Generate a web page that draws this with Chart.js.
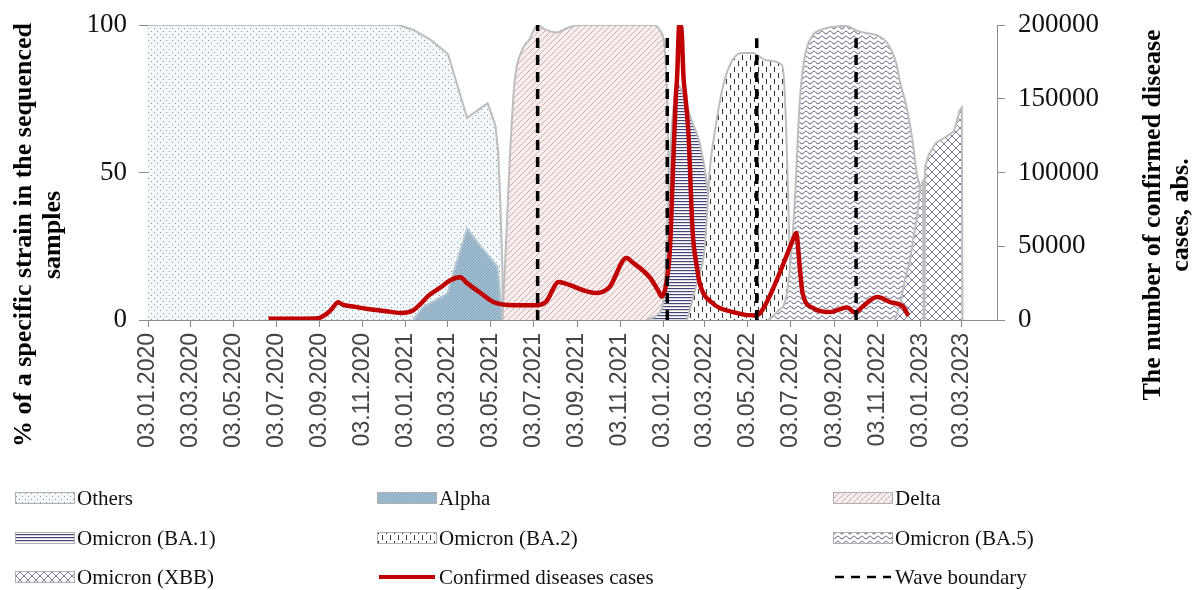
<!DOCTYPE html>
<html>
<head>
<meta charset="utf-8">
<script src="https://cdn.jsdelivr.net/npm/chart.js@4.4.1/dist/chart.umd.min.js"></script>
<style>
  html, body { margin: 0; padding: 0; background: #fff; }
  #wrap { width: 1195px; height: 590px; }
</style>
</head>
<body>
<div id="wrap"><canvas id="chart" width="1195" height="590"></canvas></div>
<script>
// x axis tick labels (every two months)
const xTickLabels = [
  '03.01.2020', '03.03.2020', '03.05.2020', '03.07.2020', '03.09.2020', '03.11.2020',
  '03.01.2021', '03.03.2021', '03.05.2021', '03.07.2021', '03.09.2021', '03.11.2021',
  '03.01.2022', '03.03.2022', '03.05.2022', '03.07.2022', '03.09.2022', '03.11.2022',
  '03.01.2023', '03.03.2023'
];
const xEnd = '2023-04-22';

// share of each strain in sequenced samples, % : [date, value]
const others = [
  ['2020-01-03', 100], ['2020-12-24', 100], ['2021-01-14', 98.3], ['2021-02-07', 95],
  ['2021-02-25', 91.5], ['2021-03-04', 90], ['2021-03-31', 68.5], ['2021-04-29', 73.5],
  ['2021-05-10', 66], ['2021-05-14', 57], ['2021-05-17', 40], ['2021-05-20', 18], ['2021-05-21', 0]
];
const alpha = [
  ['2021-01-13', 0], ['2021-01-28', 4.4], ['2021-03-03', 9], ['2021-03-14', 18],
  ['2021-03-31', 31], ['2021-04-19', 25], ['2021-05-13', 18], ['2021-05-17', 8], ['2021-05-20', 0]
];
const delta = [
  ['2021-05-20', 0], ['2021-05-24', 20], ['2021-05-30', 52], ['2021-06-06', 80],
  ['2021-06-17', 91.5], ['2021-06-27', 95], ['2021-07-09', 100], ['2021-07-19', 98.5],
  ['2021-08-06', 97.5], ['2021-08-20', 99], ['2021-09-06', 100], ['2021-12-20', 100],
  ['2021-12-30', 98], ['2022-01-05', 93], ['2022-01-09', 75], ['2022-01-11', 52],
  ['2022-01-14', 29], ['2022-01-17', 8], ['2022-01-21', 0]
];
const ba1 = [
  ['2021-12-10', 0], ['2021-12-27', 2], ['2022-01-03', 6], ['2022-01-08', 25],
  ['2022-01-12', 50], ['2022-01-17', 70], ['2022-01-24', 80], ['2022-02-01', 76],
  ['2022-02-12', 68], ['2022-02-24', 60], ['2022-03-07', 45], ['2022-03-14', 30],
  ['2022-03-22', 15], ['2022-03-31', 0]
];
const ba2 = [
  ['2022-02-06', 0], ['2022-02-20', 12.5], ['2022-03-03', 24], ['2022-03-07', 38],
  ['2022-03-10', 50], ['2022-03-17', 63], ['2022-03-28', 78], ['2022-04-07', 86],
  ['2022-04-24', 90.5], ['2022-05-10', 90.5], ['2022-05-30', 88], ['2022-06-21', 86.4],
  ['2022-06-24', 80], ['2022-06-27', 63], ['2022-07-01', 29], ['2022-07-06', 0]
];
const ba5 = [
  ['2022-06-01', 0], ['2022-06-15', 3], ['2022-06-27', 8], ['2022-07-03', 20],
  ['2022-07-06', 29], ['2022-07-09', 40], ['2022-07-16', 74], ['2022-07-23', 89],
  ['2022-08-02', 96], ['2022-08-17', 98.5], ['2022-09-06', 99.5], ['2022-09-20', 99.7],
  ['2022-10-06', 98], ['2022-10-25', 97], ['2022-11-03', 96.5], ['2022-11-17', 94],
  ['2022-11-30', 87], ['2022-12-06', 80], ['2022-12-13', 74], ['2022-12-23', 61],
  ['2022-12-30', 48.5], ['2023-01-03', 42], ['2023-01-06', 0]
];
const xbb = [
  ['2022-11-28', 0], ['2022-12-05', 5], ['2022-12-12', 13], ['2022-12-20', 21],
  ['2022-12-30', 36], ['2023-01-03', 45], ['2023-01-07', 47], ['2023-01-08', 0],
  ['2023-01-09', 0], ['2023-01-10', 52], ['2023-01-15', 56], ['2023-01-25', 60],
  ['2023-02-08', 62], ['2023-02-20', 64], ['2023-02-28', 71], ['2023-03-03', 72],
  ['2023-03-04', 0]
];

// confirmed disease cases, abs. : [date, value]
const cases = [
  ['2020-06-22', 800], ['2020-08-06', 900], ['2020-08-31', 1200], ['2020-09-12', 4000],
  ['2020-09-19', 7000], ['2020-09-29', 12000], ['2020-10-05', 10500], ['2020-10-22', 9000],
  ['2020-11-10', 7500], ['2020-12-06', 6000], ['2020-12-27', 4800], ['2021-01-13', 6500],
  ['2021-01-24', 11000], ['2021-02-03', 16000], ['2021-02-21', 22000], ['2021-03-07', 27000],
  ['2021-03-21', 29000], ['2021-03-31', 25000], ['2021-04-19', 18300], ['2021-05-07', 12200],
  ['2021-06-05', 10000], ['2021-07-07', 10000], ['2021-07-21', 12500], ['2021-08-08', 25800],
  ['2021-08-22', 24000], ['2021-09-13', 20000], ['2021-09-30', 18300], ['2021-10-19', 22400],
  ['2021-11-12', 42000], ['2021-11-21', 39000], ['2021-12-15', 29000], ['2021-12-27', 20000],
  ['2022-01-01', 16000], ['2022-01-09', 29000], ['2022-01-13', 50000], ['2022-01-17', 100000],
  ['2022-01-21', 150000], ['2022-01-23', 165000], ['2022-01-26', 200000], ['2022-01-29', 198000],
  ['2022-02-01', 165000], ['2022-02-04', 150000], ['2022-02-08', 127000], ['2022-02-14', 60000],
  ['2022-02-20', 36000], ['2022-02-24', 25000], ['2022-03-14', 11500], ['2022-04-12', 5400],
  ['2022-05-16', 3000], ['2022-05-24', 6800], ['2022-06-07', 20000], ['2022-06-21', 36000],
  ['2022-07-06', 54000], ['2022-07-11', 59000], ['2022-07-16', 36000], ['2022-07-20', 18300],
  ['2022-08-04', 8100], ['2022-08-28', 5400], ['2022-09-21', 8500], ['2022-10-03', 5000],
  ['2022-10-13', 9000], ['2022-11-03', 15600], ['2022-11-21', 12200], ['2022-12-10', 8800],
  ['2022-12-17', 3000]
];

// wave boundaries: date and top of the line (% axis)
const waveDates = ['2021-07-09', '2022-01-09', '2022-05-16', '2022-10-04'];
const waveTops = [100, 96, 95.5, 95.5];

const day0 = Date.UTC(2020, 0, 3);
function day(iso) {
  const [y, m, d] = iso.split('-').map(Number);
  return (Date.UTC(y, m - 1, d) - day0) / 86400000;
}
function labelDay(lbl) {
  const [d, m, y] = lbl.split('.');
  return day(`${y}-${m}-${d}`);
}
const xTicks = xTickLabels.map(labelDay);
const pts = arr => arr.map(([d, v]) => ({ x: day(d), y: v }));

// hatch patterns
function pattern(w, h, draw) {
  const c = document.createElement('canvas');
  c.width = w; c.height = h;
  const g = c.getContext('2d');
  draw(g, w, h);
  return g.createPattern(c, 'repeat');
}
const patOthers = pattern(6, 6, (g) => {
  g.fillStyle = '#f1f7fa'; g.fillRect(0, 0, 6, 6);
  g.fillStyle = '#8d9ba3'; g.fillRect(1, 1, 1, 1); g.fillRect(4, 4, 1, 1);
});
const patAlpha = pattern(3, 3, (g) => {
  g.fillStyle = '#a3bfd2'; g.fillRect(0, 0, 3, 3);
  g.fillStyle = '#84a3ba'; g.fillRect(0, 0, 1, 1); g.fillRect(2, 1, 1, 1); g.fillRect(1, 2, 1, 1);
});
const patDelta = pattern(6, 6, (g) => {
  g.fillStyle = '#f8eeed'; g.fillRect(0, 0, 6, 6);
  g.strokeStyle = '#ccaeae'; g.lineWidth = 1;
  for (const o of [-6, 0, 6]) { g.beginPath(); g.moveTo(o, 6); g.lineTo(o + 6, 0); g.stroke(); }
});
const patBa1 = pattern(4, 3, (g) => {
  g.fillStyle = '#ffffff'; g.fillRect(0, 0, 4, 3);
  g.fillStyle = '#45457a'; g.fillRect(0, 0, 4, 1.2);
});
const patBa2 = pattern(8, 12, (g) => {
  g.fillStyle = '#ffffff'; g.fillRect(0, 0, 8, 12);
  g.fillStyle = '#333333'; g.fillRect(2, 1, 1, 5); g.fillRect(6, 7, 1, 5);
});
const patBa5 = pattern(8, 5, (g) => {
  g.fillStyle = '#ffffff'; g.fillRect(0, 0, 8, 5);
  g.strokeStyle = '#3f3f68'; g.lineWidth = 1;
  g.beginPath();
  for (let x = 0; x <= 8; x += 0.5) {
    const y = 2.5 + 1.3 * Math.sin(x / 8 * Math.PI * 2);
    x === 0 ? g.moveTo(x, y) : g.lineTo(x, y);
  }
  g.stroke();
});
const patXbb = pattern(8, 8, (g) => {
  g.fillStyle = '#ffffff'; g.fillRect(0, 0, 8, 8);
  g.strokeStyle = '#7a7a98'; g.lineWidth = 1;
  g.beginPath(); g.moveTo(0, 0); g.lineTo(8, 8); g.moveTo(0, 8); g.lineTo(8, 0); g.stroke();
});

const areaBorder = '#bdbdbd';
function area(label, data, fill, order, tension, border) {
  return {
    label, data: pts(data), yAxisID: 'y', order,
    backgroundColor: fill, borderColor: border || areaBorder, borderWidth: 2,
    fill: 'origin', pointRadius: 0, tension, cubicInterpolationMode: tension ? 'monotone' : 'default'
  };
}

const datasets = [
  area('Others', others, patOthers, 9, 0),
  area('Alpha', alpha, patAlpha, 8, 0, '#b3c6d3'),
  area('Delta', delta, patDelta, 7, 0.3),
  area('Omicron (BA.1)', ba1, patBa1, 6, 0.3),
  area('Omicron (BA.2)', ba2, patBa2, 5, 0.3),
  area('Omicron (BA.5)', ba5, patBa5, 4, 0.3),
  area('Omicron (XBB)', xbb, patXbb, 3, 0),
  {
    label: 'Confirmed diseases cases', data: pts(cases), yAxisID: 'y1', order: 2,
    borderColor: '#c00000', backgroundColor: '#c00000', borderWidth: 4.5,
    fill: false, pointRadius: 0, tension: 0.3, cubicInterpolationMode: 'monotone'
  }
];
waveDates.forEach((d, i) => {
  datasets.push({
    label: 'Wave boundary', data: [{ x: day(d), y: 0 }, { x: day(d), y: waveTops[i] }],
    yAxisID: 'y', order: 1, borderColor: '#000', borderWidth: 3.5, borderDash: [10, 7],
    fill: false, pointRadius: 0
  });
});

const legendOrder = [
  'Others', 'Alpha', 'Delta',
  'Omicron (BA.1)', 'Omicron (BA.2)', 'Omicron (BA.5)',
  'Omicron (XBB)', 'Confirmed diseases cases', 'Wave boundary'
];

const extras = {
  id: 'extras',
  afterDraw(chart) {
    const ctx = chart.ctx;
    ctx.save();
    // axis titles
    ctx.fillStyle = '#000';
    ctx.font = 'bold 26px "Liberation Serif"';
    ctx.textAlign = 'center';
    ctx.textBaseline = 'middle';
    const title = (x, y, lines, gap) => {
      ctx.save();
      ctx.translate(x, y);
      ctx.rotate(-Math.PI / 2);
      lines.forEach((t, i) => ctx.fillText(t, 0, i * gap));
      ctx.restore();
    };
    title(24, 235, ['% of a specific strain in the sequenced', 'samples'], 29);
    title(1153, 215, ['The number of confirmed disease', 'cases, abs.'], 28);

    // legend
    const cols = [15, 377, 833], rows = [498, 538, 577];
    const sw = 60, sh = 12;
    ctx.font = '21px "Liberation Serif"';
    ctx.textAlign = 'left';
    legendOrder.forEach((name, i) => {
      const ds = chart.data.datasets.find(d => d.label === name);
      const x = cols[i % 3], y = rows[Math.floor(i / 3)];
      if (ds.fill) {
        ctx.fillStyle = ds.backgroundColor;
        ctx.fillRect(x, y - sh / 2, sw, sh);
        ctx.strokeStyle = '#b0b0b0'; ctx.lineWidth = 1;
        ctx.strokeRect(x + 0.5, y - sh / 2 + 0.5, sw - 1, sh - 1);
      } else {
        ctx.strokeStyle = ds.borderColor;
        ctx.lineWidth = ds.borderDash ? 2.5 : 4;
        ctx.setLineDash(ds.borderDash ? [9, 7] : []);
        ctx.beginPath(); ctx.moveTo(x + 2, y); ctx.lineTo(x + sw - 2, y); ctx.stroke();
        ctx.setLineDash([]);
      }
      ctx.fillStyle = '#111';
      ctx.fillText(name, x + sw + 2, y + 1);
    });
    ctx.restore();
  }
};

const axisColor = '#8c8c8c';
new Chart(document.getElementById('chart'), {
  type: 'line',
  data: { datasets },
  plugins: [extras],
  options: {
    responsive: false,
    animation: false,
    layout: { padding: { top: 25, left: 0, right: 0, bottom: 0 } },
    plugins: { legend: { display: false }, tooltip: { enabled: false }, title: { display: false } },
    scales: {
      x: {
        type: 'linear', min: 0, max: day(xEnd),
        afterBuildTicks: s => { s.ticks = xTicks.map(v => ({ value: v })); },
        afterFit: s => { s.height = 270; },
        ticks: {
          autoSkip: false, minRotation: 90, maxRotation: 90, padding: 6,
          color: '#454545', font: { family: 'Liberation Sans', size: 23 },
          callback: v => xTickLabels[xTicks.indexOf(v)]
        },
        grid: { drawOnChartArea: false, tickLength: 7, color: axisColor },
        border: { color: axisColor }
      },
      y: {
        position: 'left', min: 0, max: 100,
        afterFit: s => { s.width = 148; },
        ticks: {
          stepSize: 50, padding: 12, color: '#111',
          font: { family: 'Liberation Serif', size: 27, lineHeight: 0.8 }
        },
        grid: { drawOnChartArea: false, tickLength: 9, color: axisColor },
        border: { color: axisColor }
      },
      y1: {
        position: 'right', min: 0, max: 200000,
        afterFit: s => { s.width = 198; },
        ticks: {
          stepSize: 50000, padding: 13, color: '#111',
          font: { family: 'Liberation Serif', size: 27, lineHeight: 0.8 },
          callback: v => String(v)
        },
        grid: { drawOnChartArea: false, tickLength: 8, color: axisColor },
        border: { color: axisColor }
      }
    }
  }
});
</script>
</body>
</html>
